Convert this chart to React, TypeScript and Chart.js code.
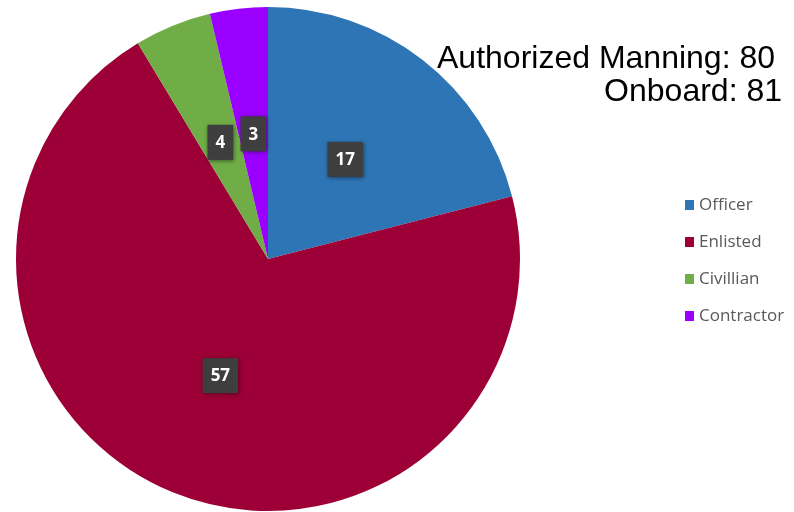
import React, { useEffect, useRef } from "react";
import { Chart, registerables } from "chart.js";

Chart.register(...registerables);

const categories = ["Officer", "Enlisted", "Civillian", "Contractor"];
const values = [17, 57, 4, 3];
const colors = ["#2e75b6", "#9c0036", "#70ad47", "#9900ff"];
const titleLines = ["Authorized Manning: 80", "Onboard: 81"];

const overlayPlugin = {
  id: "overlay",
  afterDatasetsDraw(chart: any) {
    const ctx = chart.ctx as CanvasRenderingContext2D;
    const meta = chart.getDatasetMeta(0);
    // value labels
    meta.data.forEach((arc: any, i: number) => {
      const p = arc.tooltipPosition();
      const txt = String(values[i]);
      ctx.save();
      ctx.font = "bold 17px 'Open Sans'";
      const tw = ctx.measureText(txt).width;
      const w = tw + 16;
      const h = 35;
      ctx.shadowColor = "rgba(0,0,0,0.45)";
      ctx.shadowBlur = 4;
      ctx.shadowOffsetX = 1;
      ctx.shadowOffsetY = 1;
      ctx.fillStyle = "#3e3e3e";
      ctx.fillRect(p.x - w / 2, p.y - h / 2, w, h);
      ctx.shadowColor = "transparent";
      ctx.fillStyle = "#ffffff";
      ctx.textAlign = "center";
      ctx.textBaseline = "middle";
      ctx.fillText(txt, p.x, p.y + 1);
      ctx.restore();
    });
    // title text
    ctx.save();
    ctx.fillStyle = "#000000";
    ctx.font = "32px 'Liberation Sans', Arial, sans-serif";
    ctx.textBaseline = "alphabetic";
    ctx.textAlign = "right";
    ctx.fillText(titleLines[0], 775, 68);
    ctx.fillText(titleLines[1], 782, 101);
    ctx.restore();
    // legend
    ctx.save();
    ctx.font = "17px 'Open Sans'";
    ctx.textBaseline = "middle";
    ctx.textAlign = "left";
    categories.forEach((c, i) => {
      const cy = 205 + i * 37;
      ctx.fillStyle = colors[i];
      ctx.fillRect(685, cy - 5, 9, 10);
      ctx.fillStyle = "#595959";
      ctx.fillText(c, 699, cy);
    });
    ctx.restore();
  },
};

export default function App() {
  const ref = useRef<HTMLCanvasElement>(null);
  useEffect(() => {
    if (!ref.current) return;
    const chart = new Chart(ref.current, {
      type: "pie",
      data: {
        labels: categories,
        datasets: [
          {
            data: values,
            backgroundColor: colors,
            borderWidth: 0,
          },
        ],
      },
      options: {
        responsive: false,
        animation: false,
        layout: { padding: { left: 16, right: 274, top: 7, bottom: 1 } },
        plugins: {
          legend: { display: false },
          tooltip: { enabled: false },
        },
      },
      plugins: [overlayPlugin],
    });
    return () => chart.destroy();
  }, []);
  return (
    <div style={{ position: "absolute", left: 0, top: 0, width: 794, height: 512, background: "#ffffff" }}>
      <canvas ref={ref} width={794} height={512} style={{ display: "block" }} />
    </div>
  );
}
